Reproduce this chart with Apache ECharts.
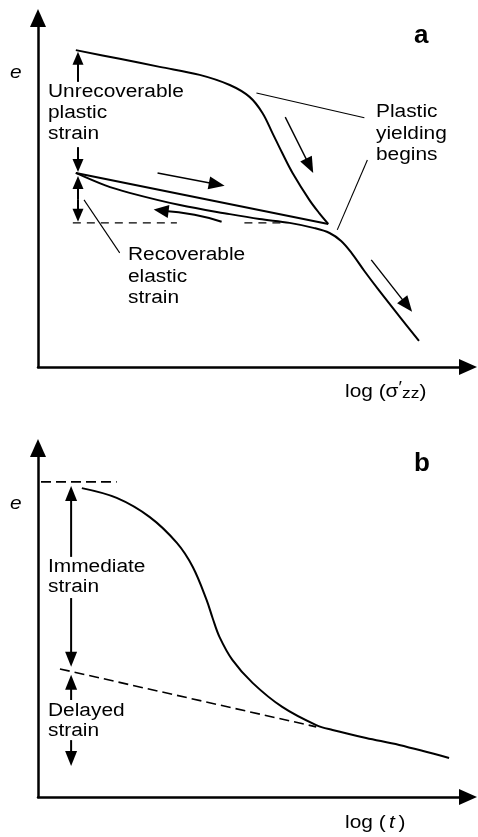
<!DOCTYPE html>
<html>
<head>
<meta charset="utf-8">
<script src="https://cdn.jsdelivr.net/npm/echarts@6/dist/echarts.min.js"></script>
<style>
  html, body { margin: 0; padding: 0; background: #fff; }
  #chart { width: 478px; height: 837px; }
</style>
</head>
<body>
<div id="chart"></div>
<script>
// ---- Panel a: void ratio e against log effective vertical stress ----
// (both axes run 0..10 in schematic units)
const virginLoading = [[0.88,9.08],[1.90,8.83],[2.83,8.60],[3.76,8.37],[4.46,8.08],[4.92,7.74],[5.22,7.28],[5.45,6.71],[5.68,6.13],[5.92,5.56],[6.31,4.79],[6.54,4.41],[6.75,4.10]];
const unloadingLine = [[6.75,4.10],[0.88,5.56]];
const reloadingCurve = [[0.88,5.56],[1.55,5.21],[2.13,4.99],[3.30,4.64],[4.46,4.38],[5.15,4.24],[5.85,4.13],[6.43,3.98],[6.78,3.84],[7.05,3.61],[7.29,3.27],[7.59,2.75],[7.94,2.18],[8.40,1.46],[8.86,0.75]];
const elasticLevelLeft = [[0.81,4.13],[3.23,4.13]];
const elasticLevelRight = [[4.80,4.13],[5.66,4.13]];

// strain-range arrows (tail -> tip)
const strainArrowsA = [
  [[0.93,8.17],[0.93,9.03]],
  [[0.93,6.30],[0.93,5.59]],
  [[0.93,4.81],[0.93,5.47]],
  [[0.93,4.81],[0.93,4.16]]
];
// loading-path direction arrows (tail -> tip)
const flowArrowsA = [
  [[2.78,5.56],[4.34,5.19]],
  [[5.75,7.16],[6.40,5.56]],
  [[7.75,3.07],[8.70,1.58]]
];
const unloadArrowA = [[[4.27,4.16],[3.64,4.36],[2.69,4.51]]];
// leader lines from labels
const leadersA = [
  [[1.07,4.79],[1.90,3.27]],
  [[5.08,7.85],[7.59,7.14]],
  [[6.96,3.93],[7.66,5.93]]
];

// ---- Panel b: void ratio e against log time ----
const consolidationCurve = [[1.02,8.85],[1.83,8.57],[2.60,8.02],[3.23,7.28],[3.60,6.59],[3.92,5.65],[4.06,5.13],[4.22,4.59],[4.52,3.93],[4.99,3.27],[5.68,2.58],[6.47,2.06],[6.85,1.92],[7.63,1.69],[8.40,1.49],[9.56,1.12]];
const initialLevel = [[0.07,9.03],[1.83,9.03]];
const secondaryTrend = [[0.51,3.67],[6.47,2.01]];
const strainArrowsB = [
  [[0.77,6.88],[0.77,8.91]],
  [[0.77,5.70],[0.77,3.73]],
  [[0.77,2.78],[0.77,3.50]],
  [[0.77,1.63],[0.77,0.89]]
];

const FONT = '"Liberation Sans", Arial, Helvetica, sans-serif';
const INK = '#000';

// Draws polylines (optionally smoothed) with an optional filled arrowhead at the last point.
function pathSeries(paths, gridIndex, opts) {
  return {
    type: 'custom',
    xAxisIndex: gridIndex,
    yAxisIndex: gridIndex,
    clip: false,
    silent: true,
    z: 5,
    data: paths.map(p => p[p.length - 1]),
    encode: { x: 0, y: 1 },
    renderItem: function (params, api) {
      const pts = paths[params.dataIndex].map(p => api.coord(p));
      const children = [];
      const shaft = pts.slice();
      if (opts.head) {
        const L = opts.head[0], W = opts.head[1];
        const tip = pts[pts.length - 1], prev = pts[pts.length - 2];
        const dx = tip[0] - prev[0], dy = tip[1] - prev[1];
        const len = Math.hypot(dx, dy);
        const ux = dx / len, uy = dy / len;
        const bx = tip[0] - ux * L, by = tip[1] - uy * L;
        shaft[shaft.length - 1] = [tip[0] - ux * L * 0.6, tip[1] - uy * L * 0.6];
        children.push({
          type: 'polygon',
          shape: { points: [tip, [bx - uy * W / 2, by + ux * W / 2], [bx + uy * W / 2, by - ux * W / 2]] },
          style: { fill: INK, stroke: null }
        });
      }
      children.unshift({
        type: 'polyline',
        shape: { points: shaft, smooth: opts.smooth || 0 },
        style: { stroke: INK, lineWidth: opts.width, fill: null }
      });
      return { type: 'group', children: children };
    }
  };
}

function curve(data, gridIndex, width, dash, smooth) {
  return {
    type: 'line',
    xAxisIndex: gridIndex,
    yAxisIndex: gridIndex,
    data: data,
    showSymbol: false,
    symbol: 'none',
    smooth: smooth || false,
    silent: true,
    lineStyle: { color: INK, width: width, type: dash || 'solid', cap: 'butt' }
  };
}

function axis(gridIndex) {
  return {
    type: 'value',
    gridIndex: gridIndex,
    min: 0,
    max: 10,
    axisLine: {
      show: true,
      onZero: false,
      symbol: ['none', 'triangle'],
      symbolSize: [16, 18],
      lineStyle: { color: INK, width: 2.5 }
    },
    axisTick: { show: false },
    axisLabel: { show: false },
    splitLine: { show: false }
  };
}

function text(str, x, y, extra) {
  return Object.assign({
    type: 'text',
    x: x,
    y: y,
    scaleX: 1.16,
    silent: true,
    style: {
      text: str,
      fontFamily: FONT,
      fontSize: 18,
      lineHeight: 21,
      fill: INK,
      align: 'left',
      verticalAlign: 'middle'
    }
  }, extra || {});
}

const chart = echarts.init(document.getElementById('chart'), null, { renderer: 'canvas' });

chart.setOption({
  animation: false,
  backgroundColor: '#fff',
  grid: [
    { left: 38, right: 10, top: 18, height: 349 },
    { left: 38, right: 10, top: 448, height: 349 }
  ],
  xAxis: [axis(0), axis(1)],
  yAxis: [axis(0), axis(1)],
  series: [
    curve(virginLoading, 0, 2, 'solid', 0.35),
    curve(unloadingLine, 0, 2),
    curve(reloadingCurve, 0, 2, 'solid', 0.35),
    curve(elasticLevelLeft, 0, 1.4, [8, 6]),
    curve(elasticLevelRight, 0, 1.4, [8, 6]),
    pathSeries(strainArrowsA, 0, { width: 2, head: [13, 11] }),
    pathSeries(flowArrowsA, 0, { width: 1.4, head: [16, 13] }),
    pathSeries(unloadArrowA, 0, { width: 2, head: [15, 13], smooth: 0.5 }),
    pathSeries(leadersA, 0, { width: 1.1 }),

    curve(consolidationCurve, 1, 2, 'solid', 0.35),
    curve(initialLevel, 1, 1.6, [10, 5]),
    curve(secondaryTrend, 1, 1.6, [10, 5]),
    pathSeries(strainArrowsB, 1, { width: 2, head: [15, 12] })
  ],
  graphic: [
    // panel a
    text('e', 10, 73, { style: { text: 'e', fontFamily: FONT, fontSize: 18, fontStyle: 'italic', fill: INK, verticalAlign: 'middle' } }),
    text('a', 414, 36, { scaleX: 1, style: { text: 'a', fontFamily: FONT, fontSize: 26, fontWeight: 'bold', fill: INK, verticalAlign: 'middle' } }),
    text('Unrecoverable\nplastic\nstrain', 48, 113),
    text('Recoverable\nelastic\nstrain', 128, 277, { style: { text: 'Recoverable\nelastic\nstrain', fontFamily: FONT, fontSize: 18, lineHeight: 21.5, fill: INK, verticalAlign: 'middle' } }),
    text('Plastic\nyielding\nbegins', 376, 134, { style: { text: 'Plastic\nyielding\nbegins', fontFamily: FONT, fontSize: 18, lineHeight: 21.5, fill: INK, verticalAlign: 'middle' } }),
    text('', 345, 392, {
      style: {
        text: '{n|log (}{n|σ}{p|′}{s|zz}{n|)}',
        fontFamily: FONT, fill: INK, verticalAlign: 'middle',
        rich: {
          n: { fontFamily: FONT, fontSize: 18, fill: INK },
          p: { fontFamily: FONT, fontSize: 16, fill: INK, padding: [0, 0, 6, 0] },
          s: { fontFamily: FONT, fontSize: 15, fill: INK, padding: [4, 0, 0, 0] }
        }
      }
    }),
    // panel b
    text('e', 10, 504, { style: { text: 'e', fontFamily: FONT, fontSize: 18, fontStyle: 'italic', fill: INK, verticalAlign: 'middle' } }),
    text('b', 414, 464, { scaleX: 1, style: { text: 'b', fontFamily: FONT, fontSize: 26, fontWeight: 'bold', fill: INK, verticalAlign: 'middle' } }),
    text('Immediate\nstrain', 48, 577, { style: { text: 'Immediate\nstrain', fontFamily: FONT, fontSize: 18, lineHeight: 20, fill: INK, verticalAlign: 'middle' } }),
    text('Delayed\nstrain', 48, 721, { style: { text: 'Delayed\nstrain', fontFamily: FONT, fontSize: 18, lineHeight: 20, fill: INK, verticalAlign: 'middle' } }),
    text('', 345, 823, {
      style: {
        text: '{n|log (}{i|t}{n|)}',
        fontFamily: FONT, fill: INK, verticalAlign: 'middle',
        rich: {
          n: { fontFamily: FONT, fontSize: 18, fill: INK },
          i: { fontFamily: FONT, fontSize: 18, fontStyle: 'italic', fill: INK, padding: [0, 3, 0, 3] }
        }
      }
    })
  ]
});
</script>
</body>
</html>
